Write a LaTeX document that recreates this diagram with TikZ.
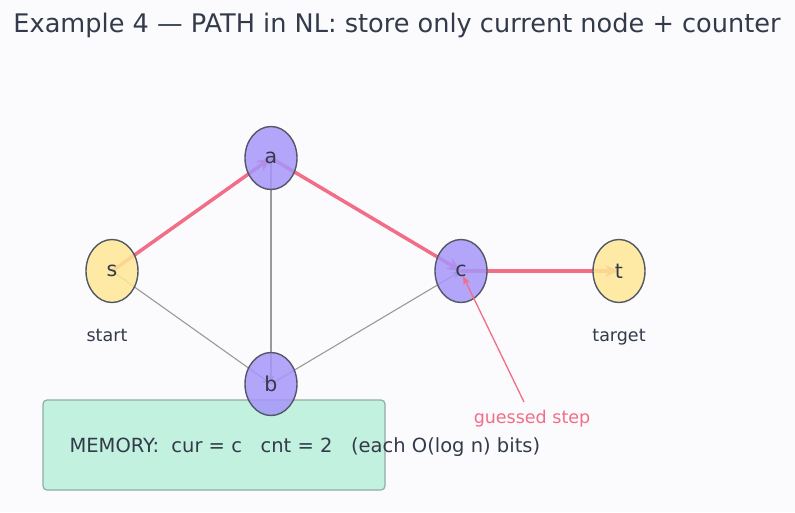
\documentclass[tikz,border=0pt]{standalone}
\usepackage{fontspec}
\setmainfont{DejaVu Sans}
\usetikzlibrary{positioning,arrows.meta,shapes.geometric}
\definecolor{bgcol}{HTML}{FBFBFE}
\definecolor{inkcol}{HTML}{333B4A}
\definecolor{pathcol}{HTML}{F26D86}
\definecolor{edgecol}{HTML}{999999}
\definecolor{endcol}{HTML}{FFE895}
\definecolor{midcol}{HTML}{A696FA}
\definecolor{memcol}{HTML}{C2F1DF}
\definecolor{memline}{HTML}{92ADA4}
\tikzset{
  vert/.style={ellipse, draw=inkcol!85, line width=1.4pt, fill opacity=0.85,
    text opacity=1, minimum width=52pt, minimum height=63pt, inner sep=0pt,
    font=\fontsize{20.5}{23}\selectfont, text=inkcol},
  endv/.style={vert, fill=endcol},
  midv/.style={vert, fill=midcol},
  plain/.style={draw=edgecol, line width=1.1pt, -{Stealth[length=9pt,width=7pt]}},
  walk/.style={draw=pathcol, line width=3.5pt, -{Stealth[length=14pt,width=12pt]}},
  tag/.style={font=\fontsize{17.5}{20}\selectfont, text=inkcol}
}
\begin{document}
\begin{tikzpicture}[x=1pt,y=-1pt]
  \fill[bgcol] (0,0) rectangle (795,512);
  \useasboundingbox (0,0) rectangle (795,512);
  \node[font=\fontsize{25.6}{30}\selectfont, text=inkcol] (title) at (397,25)
    {Example 4 — PATH in NL: store only current node + counter};

  % centres
  \coordinate (ps) at (112,271);
  \coordinate (pa) at (271,158);
  \coordinate (pb) at (271,384);
  \coordinate (pc) at (461,271);
  \coordinate (pt) at (619,271);

  % edges first, vertices drawn over them
  \draw[plain] (ps) -- (pb);
  \draw[plain] (pa) -- (pb);
  \draw[plain] (pb) -- (pc);
  \draw[walk] (ps) -- (pa);
  \draw[walk] (pa) -- (pc);
  \draw[walk] (pc) -- (pt);

  % memory box
  \draw[memline, fill=memcol, line width=1.2pt, rounded corners=4pt]
    (43,400) rectangle (385,490);
  \node[anchor=west, font=\fontsize{19.5}{22}\selectfont, text=inkcol] (mem) at (66,447)
    {MEMORY:\ \ cur = c \ \ cnt = 2 \ \ (each O(log n) bits)};

  \node[endv] (s) at (ps) {s};
  \node[midv] (a) at (pa) {a};
  \node[midv] (b) at (pb) {b};
  \node[midv] (c) at (pc) {c};
  \node[endv] (t) at (pt) {t};

  \node[tag] (st) [below=22pt of s, xshift=-5pt] {start};
  \node[tag] (tg) [below=22pt of t] {target};

  \node[tag, text=pathcol] (gs) at (532,419) {guessed step};
  \coordinate (gq) at (524,402);
  \coordinate (gend) at (463,276);
  \draw[pathcol, line width=1.3pt, -{Stealth[length=9pt,width=7pt]}] (gq) -- (gend);
\end{tikzpicture}
\end{document}
